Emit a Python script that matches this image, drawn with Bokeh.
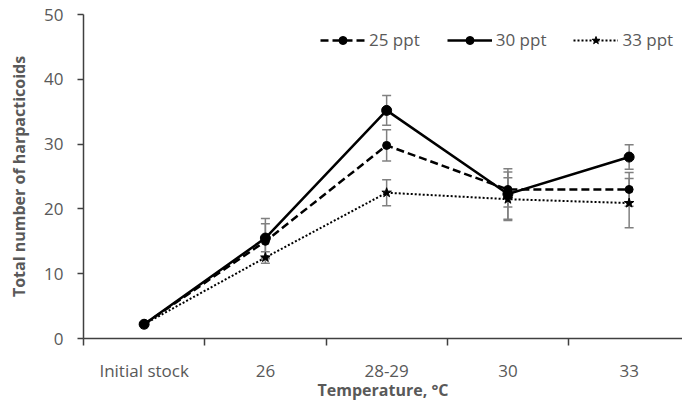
from bokeh.plotting import figure
from bokeh.models import Range1d, FixedTicker, Whisker, ColumnDataSource, TeeHead, Legend
from bokeh.embed import file_html
from bokeh.resources import INLINE

categories = ["Initial stock", "26", "28-29", "30", "33"]
s25 = [2.2, 15.0, 29.8, 23.0, 23.0]
e25 = [0.0, 2.7, 2.4, 2.7, 2.6]
s30 = [2.2, 15.5, 35.2, 22.3, 28.0]
e30 = [0.0, 3.0, 2.3, 3.9, 1.9]
s33 = [2.2, 12.5, 22.5, 21.5, 20.9]
e33 = [0.0, 0.9, 2.0, 3.3, 3.8]
y_ticks = [0, 10, 20, 30, 40, 50]

xs = [i + 0.5 for i in range(len(categories))]

FONT = "Open Sans"
GRAY = "#595959"
AXC = "#404040"

p = figure(width=682, height=403, output_backend="svg", toolbar_location=None,
           x_range=Range1d(0, 4.94), y_range=Range1d(0, 50),
           min_border_left=83, min_border_right=0, min_border_top=14, min_border_bottom=65)
p.outline_line_color = None
p.grid.visible = False
p.background_fill_color = "white"

# x axis
p.xaxis.ticker = FixedTicker(ticks=xs, minor_ticks=list(range(len(categories) + 1)))
p.xaxis.major_label_overrides = {x: c for x, c in zip(xs, categories)}
p.xaxis.major_tick_out = 0
p.xaxis.major_tick_in = 0
p.xaxis.minor_tick_out = 7
p.xaxis.minor_tick_in = 0
p.xaxis.minor_tick_line_color = AXC
p.xaxis.minor_tick_line_width = 1.5
p.xaxis.axis_line_color = AXC
p.xaxis.axis_line_width = 1.5
p.xaxis.major_label_standoff = 13
p.xaxis.axis_label = "Temperature, °C"
p.xaxis.axis_label_standoff = -6

# y axis
p.yaxis.ticker = FixedTicker(ticks=y_ticks)
p.yaxis.minor_tick_line_color = None
p.yaxis.major_tick_out = 6
p.yaxis.major_tick_in = 0
p.yaxis.major_tick_line_color = AXC
p.yaxis.major_tick_line_width = 1.5
p.yaxis.axis_line_color = AXC
p.yaxis.axis_line_width = 1.5
p.yaxis.major_label_standoff = 14
p.yaxis.axis_label = "Total number of harpacticoids"
p.yaxis.axis_label_standoff = 11

for ax in (p.xaxis, p.yaxis):
    ax.major_label_text_font = FONT
    ax.major_label_text_font_size = "17px"
    ax.major_label_text_color = GRAY
    ax.axis_label_text_font = FONT
    ax.axis_label_text_font_size = "16px"
    ax.axis_label_text_font_style = "bold"
    ax.axis_label_text_color = GRAY

# error bars
for vals, errs in ((s25, e25), (s30, e30), (s33, e33)):
    src = ColumnDataSource(dict(x=xs, lo=[v - e for v, e in zip(vals, errs)],
                                hi=[v + e for v, e in zip(vals, errs)]))
    w = Whisker(source=src, base="x", lower="lo", upper="hi",
                line_color="#808080", line_width=1.5,
                upper_head=TeeHead(size=9, line_color="#808080", line_width=1.5),
                lower_head=TeeHead(size=9, line_color="#808080", line_width=1.5))
    p.add_layout(w)

r1 = p.line(xs, s25, line_color="black", line_width=2.5, line_dash="8 4")
m1 = p.scatter(xs, s25, marker="circle", size=8, color="black")
r2 = p.line(xs, s30, line_color="black", line_width=2.5)
m2 = p.scatter(xs, s30, marker="circle", size=10, color="black")
r3 = p.line(xs, s33, line_color="black", line_width=2, line_dash="2 2")
m3 = p.scatter(xs, s33, marker="star", size=10, color="black")

legend = Legend(items=[("25 ppt", [r1, m1]), ("30 ppt", [r2, m2]), ("33 ppt", [r3, m3])],
                orientation="horizontal", location=(237, 287),
                border_line_color=None, background_fill_alpha=0,
                padding=0, margin=0, spacing=27, glyph_width=45, glyph_height=20,
                label_standoff=4, label_text_font=FONT, label_text_font_size="17px",
                label_text_color=GRAY)
p.add_layout(legend)

open("out.html", "w").write(file_html(p, INLINE))
